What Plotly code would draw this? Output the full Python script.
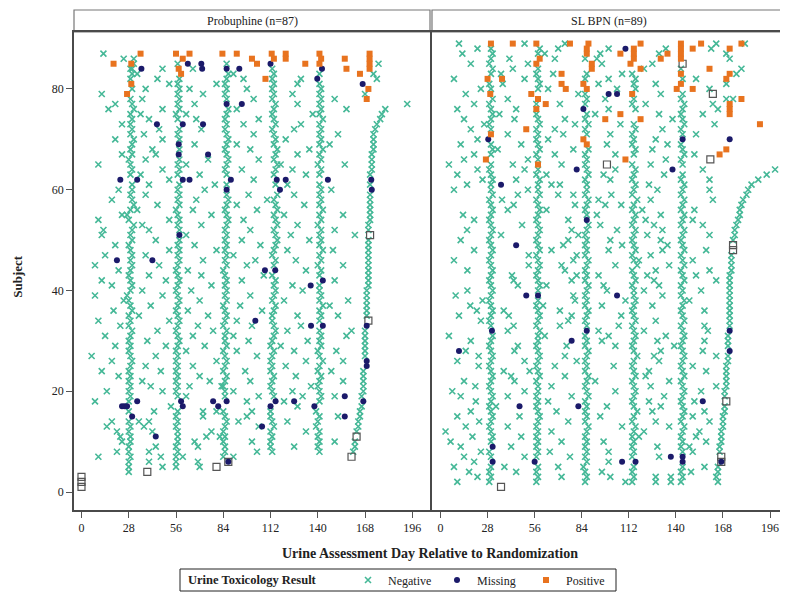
import plotly.graph_objects as go

N = None
FONT = "Liberation Serif"

# ---------------- Probuphine panel (subjects 1..87) ----------------
# scheduled-visit day per subject (index = subject-1); None = no negative there
prob_wk4 = [N,N,N,28,28,28,29,28,28,29,
            29,28,29,28,N,28,N,28,29,28,
            29,28,29,28,29,30,29,28,29,28,
            29,30,28,29,28,30,29,28,27,29,
            30,29,28,29,30,29,30,29,28,30,
            29,30,31,28,27,29,31,30,29,30,
            30,N,29,30,29,28,30,29,30,31,
            29,30,29,30,29,31,30,29,N,30,
            N,29,30,29,N,N,N]
prob_wk8 = [N,N,N,N,56,56,56,57,56,57,
            57,57,56,57,56,57,N,N,57,56,
            57,56,57,56,57,56,57,56,57,58,
            57,56,57,58,57,56,57,58,57,56,
            57,58,57,56,57,58,57,58,57,58,
            N,58,57,58,57,56,58,57,58,57,
            58,N,57,58,57,58,N,58,N,58,
            57,58,N,57,56,58,57,58,57,58,
            57,58,N,N,57,N,N]
prob_wk12 = [N,N,N,N,N,N,84,85,85,84,
             85,84,85,86,85,84,N,N,85,85,
             84,85,86,84,85,86,85,84,86,85,
             85,86,84,85,86,85,84,86,85,86,
             85,86,85,84,86,85,86,85,86,85,
             86,85,86,87,86,85,86,87,86,N,
             86,N,86,85,86,87,86,85,86,87,
             86,85,86,85,86,87,N,86,85,86,
             85,86,87,N,86,N,N]
prob_wk16 = [N,N,N,N,N,N,N,113,112,112,
             113,112,114,113,112,112,N,N,114,113,
             112,113,114,112,113,112,113,114,112,113,
             114,115,114,113,113,114,115,113,114,115,
             114,115,113,N,114,115,113,114,115,116,
             115,114,116,115,114,116,115,114,116,N,
             115,N,114,115,116,114,115,116,114,115,
             114,113,115,114,113,114,115,113,114,113,
             114,113,114,113,N,N,N]
prob_wk20 = [N,N,N,N,N,N,N,141,140,141,
             140,141,139,140,141,139,N,141,142,141,
             140,141,142,140,141,143,141,140,142,141,
             142,141,N,141,142,141,143,141,142,141,
             141,N,141,142,140,142,141,143,141,142,
             141,142,140,142,141,143,141,142,141,142,
             141,N,141,142,140,142,141,143,141,142,
             141,142,141,143,141,142,141,142,141,142,
             141,N,141,N,N,N,N]
prob_wk24 = [N,N,N,N,N,N,N,161,162,162,
             N,163,164,164,165,165,166,N,166,167,
             167,167,167,167,N,N,168,168,168,168,
             168,168,N,N,169,169,169,169,169,169,
             170,170,170,170,170,170,170,170,170,170,
             N,170,170,171,171,171,171,171,171,N,
             171,N,171,172,172,172,172,173,173,173,
             173,174,175,177,178,180,N,N,168,N,
             N,175,173,N,176,N,N]
# other (unscheduled) negative results, per subject
prob_extra = [[],[],[],[],[48,70],[40,69],[10,47,60,90],[21,40,104],[44,69,126],[24,67,101,150],
              [23,74,82],[21,42,77,133],[15,37,105],[18,34,40,93,122],[72,98,152],[43,72,80,101],[53,128],[8,98,120],[62,105,131,150],[15,48,90,125],
              [41,64,83,136],[36,76,100,155],[22,70,127],[12,47,97,148],[38,66,121],[18,80,133,155],[6,44,104],[62,92,126,151],[20,50,73,118],[39,99,134],
              [14,66,90,157],[45,78,122,160],[23,69,101,130],[10,52,92],[34,75,128,152],[19,63,107],[41,94,147],[25,70,120,158],[8,48,100],[36,65,131],
              [18,77,125],[12,50,95,150],[40,71,108],[22,63,133],[8,46,98,155],[72,103,127],[14,38,90],[52,80,122,149],[20,67,106],[44,95,135],
              [12,62,124,162],[13,40,100,150],[36,71,128],[10,52,96],[24,77,120,155],[33,66,104],[45,92,132],[18,68,110],[38,99,126],[22,73,148],
              [40,79,122],[52,102],[35,70,133],[48,95,125],[10,62,118,156],[38,75,105],[24,44,128],[42,100,135],[67,92,147],[20,48,121],
              [37,102,152],[46,71,126],[24,96,130],[40,68,105],[35,62,137],[16,48,92,157],[20,67,128,193],[36,102,150],[12,72,125],[38,64,98],
              [52,80,128],[45,96,130],[33,90],[30,48,66],[31],[25,31],[13]]
prob_miss_subj = [84,85,85,84,84,84,77,77,73,73,73,69,67,67,62,62,62,62,62,85,84,82,81,62,62,60,62,60,62,60,51,46,46,44,44,41,42,34,33,33,33,26,25,17,17,17,18,15,11,18,17,18,17,18,6,17,18,18,17,19,18,15,13]
prob_miss_day = [35.5,63,71,71.5,86,93.5,86,95,44.7,60,72,57.6,57.6,75,23,33,60,64,88.5,112,142.5,139.7,166.6,115.7,121,117.6,171.7,172,146,86,58,21,42,108.7,114.8,135.8,143,103,136,143,169,169,169,24,25.5,27,33,30,44,59,60,78,81,86,87,112,115,126,138,156,167,156,107]
prob_pos_subj = [87,85,85,81,79,87,86,87,84,83,87,87,86,85,87,86,87,86,82,85,87,86,85,86,84,83,87,86,85,84,80,78]
prob_pos_day = [35,19,29.5,29.5,27,56,60,64,57.6,59,83.5,92,101,104,112.7,114,121,121,109,132.6,141,142,141,156,157,165,170.7,170.7,170.7,170.7,170,169]
prob_sq_subj = [1,2,3,4,5,6,7,11,34,51]
prob_sq_day = [0,0,0,39,80,87,160,163,170,171]

# ---------------- SL BPN panel (subjects 1..89) ----------------
sl_wk4 = [N,29,30,29,30,N,30,29,N,30,
          31,30,29,30,31,30,29,30,31,30,
          29,30,31,30,29,30,31,30,29,30,
          31,N,30,29,30,31,30,29,30,31,
          30,29,30,31,30,29,30,31,30,29,
          30,31,30,29,30,31,30,29,31,30,
          30,31,30,29,30,N,30,31,30,N,
          N,30,29,30,31,30,29,31,N,30,
          29,N,30,31,29,30,31,30,N]
sl_wk8 = [N,57,58,57,58,N,57,58,57,58,
          57,58,57,58,59,58,57,58,57,58,
          58,57,59,58,57,58,59,58,57,58,
          58,59,57,58,59,58,57,58,N,58,
          59,58,57,58,59,58,57,59,58,57,
          58,59,58,57,58,59,58,57,59,58,
          58,59,57,58,N,58,57,59,58,57,
          58,57,59,58,57,N,57,N,N,58,
          59,58,57,58,N,N,58,59,N]
sl_wk12 = [N,86,87,86,85,87,86,87,86,87,
           86,87,88,86,87,86,87,86,88,87,
           86,87,88,86,87,86,87,88,86,87,
           86,N,87,86,87,88,86,87,86,87,
           88,86,87,86,87,88,86,87,86,87,
           86,87,88,N,87,86,87,88,86,87,
           87,86,88,87,86,87,86,88,N,N,
           87,86,88,86,87,N,86,87,86,N,
           N,86,87,N,N,86,N,N,N]
sl_wk16 = [N,114,115,114,115,N,114,115,114,115,
           114,115,116,114,115,117,115,114,115,116,
           115,114,116,115,114,115,117,115,114,115,
           116,115,114,116,115,114,115,116,115,115,
           114,116,115,114,117,115,114,116,115,114,
           115,116,114,115,116,114,115,117,114,115,
           116,114,115,116,114,N,115,116,114,115,
           114,116,115,N,N,116,114,115,N,116,
           115,116,114,N,N,N,N,N,N]
sl_wk20 = [N,143,144,143,144,N,N,144,143,144,
           143,144,145,143,144,145,144,143,144,145,
           144,143,145,144,143,144,145,144,143,144,
           145,144,143,145,144,143,144,145,143,144,
           143,145,144,143,145,144,143,145,144,143,
           144,145,143,144,145,143,144,145,143,144,
           145,143,144,N,144,143,145,144,143,N,
           144,143,145,144,143,144,145,143,144,N,
           N,144,N,143,N,N,N,N,N]
sl_wk24 = [N,165,164,165,165,N,N,166,166,167,
           167,167,168,168,168,169,169,N,169,169,
           170,170,170,170,170,171,171,N,171,171,
           171,N,172,172,172,172,172,172,172,172,
           172,172,172,173,173,173,173,N,N,174,
           175,175,176,177,178,178,179,180,182,183,
           185,189,194,199,N,N,N,N,N,N,
           N,N,N,N,N,N,N,N,N,N,
           N,N,N,N,N,N,N,N,N]
sl_extra = [[],[10,110,128,137],[22,72,101,128,137],[17,45,96,149],[8,38,70,157],[20,100],[14,50,77,130],[24,65,100,150],[12,42,129,148],[6,72,97,158],
            [19,48,118,152],[3,66,121,154],[15,40,108,136],[23,76,128,160],[10,47,95,150],[18,69,126,157],[33,99,131],[21,64,124,151],[12,40,78,133],[7,50,104,155],
            [20.7,66,125,164],[14,44,92,136],[42,74,122],[37.6,53,124,158],[22.7,68,103,150],[10,50,81,130],[22.7,74,127,164],[15,44,131,156],[46,75,104,139],[18,96,129,157],
            [5,62,100,134],[40,94,121,159],[43.5,71,106,157],[24,76,128],[11,40.6,78,107.5],[21.6,37.6,71,157],[17.7,61,96,126],[25,80,110,148],[9,79,132],[16,99,121,155],
            [46,63,97,130],[43.5,78,127,164],[42.5,81,94,123,152],[16,74,128,160],[52.5,72,104,136],[8,79,118,150],[52.5,81,125],[20,66,100,132,158],[73,108,135],[12,76,101,131],
            [36,82,123,160],[15.8,78,105,132],[48.5,95,127,156],[20,76,122,150],[13.4,93,131],[40,63,120,151],[43.5,80,98,107.5],[36.6,94,125,162],[46,70,79,101.6],[8,52,129,160],
            [15.8,66,71,124],[25,45,101,160],[10,63,97,133],[22,50,104,156],[5,43,72,125],[14,52,134],[20,68,104,151],[34,79,126],[12,48,99,135],[22,64,128],
            [40,73,101,152],[18,68,132],[26,80,107,163],[14,44,74,138],[35,92,130,156],[10,45,100,165],[20,71,122,162],[40,98,170,174],[15,82,131],[24,64,105,160],
            [37,94,128,170],[8,50,100,152],[36,67,108,176],[43,121,179],[18,52,96,126],[41,68,93,172],[13,62,95,130,170],[22,70,100,134,161],[11,50,74,164,181]]
sl_miss_subj = [88,79,79,70,70,64,76,70,64,61,54,49,39,39,32,32,30,28,39,32,28,18,6,6,7,7,6,6,9,6,6,17,17]
sl_miss_day = [110,100,105,144,172,138,85,28.4,81,36,87,45,51,58,30.6,87,78,11,105,172,172,156,108,116,137,144,144,167,31,31,56,47,82]
sl_pos_subj = [89,89,89,89,89,88,87,85,84,86,85,83,81,80,81,80,82,82,79,79,78,77,76,72,71,66,65,70,69,74,
               89,87,88,87,86,85,84,89,88,87,86,83,81,88,89,86,87,80,80,84,88,89,83,82,78,77,76,75,73,68,67,66,74,75,79]
sl_pos_day = [30,43,57,77,88,87,87,90,90,59,57,72,72,74.5,85,87,28,36.6,29.6,54,58,62.6,57,51,30,27,58,85,87,98,
              119,107,115,115,115,113,119,143,143,143,143,143,143,150,155,131,135,140.5,150,160,172,179,172,170,179,172,172,172,190,170,166,110,119,107,114]
sl_sq_subj = [1,7,6,18,48,49,85,79,66,65]
sl_sq_day = [36,167,167,170,174,174,144,162,160.5,99]

x_ticks = [0, 28, 56, 84, 112, 140, 168, 196]
y_ticks = [0, 20, 40, 60, 80]
panel_titles = ["Probuphine (n=87)", "SL BPN (n=89)"]
legend_title = "Urine Toxicology Result"

NEG_C = "#45b897"
MISS_C = "#1b1a6a"
POS_C = "#e8731f"
SQ_C = "#555555"


def negatives(chains, extra):
    xs, ys = [], []
    for ch in chains:
        for s, d in enumerate(ch, start=1):
            if d is not None:
                xs.append(d)
                ys.append(s)
    for s, days in enumerate(extra, start=1):
        for d in days:
            xs.append(d)
            ys.append(s)
    return xs, ys


fig = go.Figure()
panels = [
    ([prob_wk4, prob_wk8, prob_wk12, prob_wk16, prob_wk20, prob_wk24], prob_extra,
     prob_miss_subj, prob_miss_day, prob_pos_subj, prob_pos_day, prob_sq_subj, prob_sq_day, "x", "y"),
    ([sl_wk4, sl_wk8, sl_wk12, sl_wk16, sl_wk20, sl_wk24], sl_extra,
     sl_miss_subj, sl_miss_day, sl_pos_subj, sl_pos_day, sl_sq_subj, sl_sq_day, "x2", "y2"),
]
for i, (chains, extra, ms, md, ps, pd_, ss, sd, xa, ya) in enumerate(panels):
    nx, ny = negatives(chains, extra)
    show = i == 0
    fig.add_trace(go.Scatter(x=nx, y=ny, mode="markers", name="Negative", legendgroup="neg", showlegend=show,
                             xaxis=xa, yaxis=ya,
                             marker=dict(symbol="x-thin-open", size=6, color=NEG_C, line=dict(width=1.6, color=NEG_C))))
    fig.add_trace(go.Scatter(x=sd, y=ss, mode="markers", name="sq", showlegend=False, xaxis=xa, yaxis=ya,
                             marker=dict(symbol="square-open", size=7, color=SQ_C, line=dict(width=1.2, color=SQ_C))))
    fig.add_trace(go.Scatter(x=md, y=ms, mode="markers", name="Missing", legendgroup="miss", showlegend=show,
                             xaxis=xa, yaxis=ya, marker=dict(symbol="circle", size=6, color=MISS_C)))
    fig.add_trace(go.Scatter(x=pd_, y=ps, mode="markers", name="Positive", legendgroup="pos", showlegend=show,
                             xaxis=xa, yaxis=ya, marker=dict(symbol="square", size=6, color=POS_C)))

axis_common = dict(showline=True, mirror=True, linecolor="#4a4a4a", linewidth=1.5, showgrid=False, zeroline=False,
                   ticks="outside", ticklen=6, tickcolor="#555", tickwidth=1,
                   tickfont=dict(family=FONT, size=12, color="#222"))
y2_common = {k: v for k, v in axis_common.items() if k != "ticks"}

# the page body adds an 8px offset, so the figure is 8px smaller than the window
fig.update_layout(
    width=780, height=584,
    margin=dict(l=66, r=2, t=24, b=82, autoexpand=False),
    paper_bgcolor="white", plot_bgcolor="white",
    font=dict(family=FONT, size=12, color="#222"),
    xaxis=dict(domain=[0, 0.5], range=[-4.44, 206.5], tickvals=x_ticks, **axis_common),
    xaxis2=dict(domain=[0.5028, 1], range=[-5.06, 205.5], tickvals=x_ticks, **axis_common),
    yaxis=dict(range=[-3.57, 91.3], tickvals=y_ticks, **axis_common),
    yaxis2=dict(range=[-3.57, 91.3], tickvals=y_ticks, showticklabels=False, anchor="x2", matches="y",
                ticks="", **y2_common),
    legend=dict(orientation="h", xref="container", yref="container", x=340 / 780, xanchor="left",
                y=1 - 572 / 584, yanchor="middle",
                borderwidth=0, bgcolor="rgba(0,0,0,0)",
                font=dict(family=FONT, size=12, color="#222"),
                itemwidth=30, entrywidth=44, tracegroupgap=0),
    showlegend=True,
)

# legend frame and title
fig.add_shape(type="rect", xref="paper", yref="paper",
              x0=(172 - 66) / 712, x1=(608 - 66) / 712, y0=(502 - 583) / 478, y1=(502 - 561) / 478,
              line=dict(color="#222", width=1), fillcolor="rgba(0,0,0,0)")
fig.add_annotation(x=(178 - 66) / 712, y=(502 - 572) / 478, xref="paper", yref="paper",
                   xanchor="left", yanchor="middle", text="<b>" + legend_title + "</b>", showarrow=False,
                   font=dict(family=FONT, size=12.5, color="#222"))

strip_h = 22 / 478
for (x0, x1), title in zip([(0, 0.5), (0.5028, 1)], panel_titles):
    fig.add_shape(type="rect", xref="paper", yref="paper", x0=x0, x1=x1, y0=1, y1=1 + strip_h,
                  line=dict(color="#777", width=1.2), fillcolor="white", layer="below")
    fig.add_annotation(x=(x0 + x1) / 2, y=1 + strip_h / 2, xref="paper", yref="paper", text=title,
                       xanchor="center", yanchor="middle",
                       showarrow=False, font=dict(family=FONT, size=12, color="#222"))

fig.add_annotation(x=0.5, y=-0.09, xref="paper", yref="paper", xanchor="center", yanchor="middle",
                   text="<b>Urine Assessment Day Relative to Randomization</b>", showarrow=False,
                   font=dict(family=FONT, size=14, color="#222"))
fig.add_annotation(x=-0.0787, y=0.49, xref="paper", yref="paper", xanchor="center", yanchor="middle",
                   text="<b>Subject</b>", textangle=-90,
                   showarrow=False, font=dict(family=FONT, size=13, color="#222"))

fig.write_html("out.html")
